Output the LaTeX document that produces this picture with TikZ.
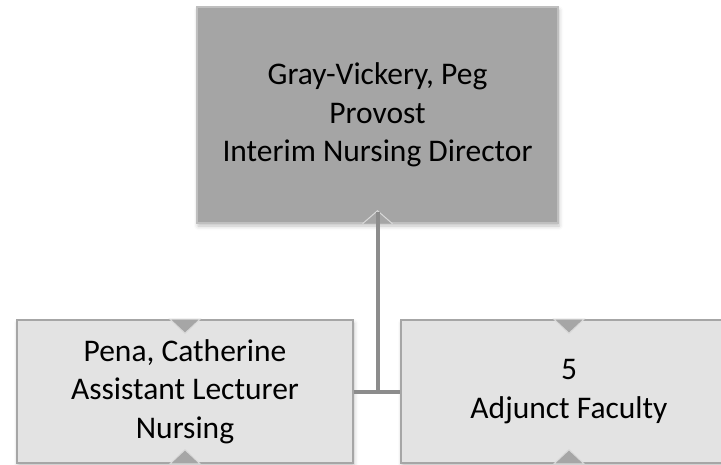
\documentclass[tikz,border=0pt]{standalone}
\usepackage{fontspec}
\setmainfont{Carlito}
\usetikzlibrary{shadows.blur}
\definecolor{topfill}{HTML}{A5A5A5}
\definecolor{topline}{HTML}{BFBFBF}
\definecolor{subfill}{HTML}{E3E3E3}
\definecolor{subline}{HTML}{A6A6A6}
\definecolor{conn}{HTML}{8C8C8C}
\definecolor{chev}{HTML}{A6A6A6}
\tikzset{
  orgbox/.style={rectangle, draw, line width=1.5pt, align=center, inner sep=0pt,
    blur shadow={shadow xshift=1pt, shadow yshift=-3pt, shadow blur radius=4pt, shadow opacity=25}},
  headbox/.style={orgbox, fill=topfill, draw=topline, minimum width=361pt, minimum height=216pt,
    font=\fontsize{31.5}{38.5}\selectfont},
  staffbox/.style={orgbox, fill=subfill, draw=subline, minimum width=336pt, minimum height=143pt,
    font=\fontsize{31.5}{38.5}\selectfont},
  chevup/.style={fill=chev, draw=white!85!black, line width=1pt},
  connline/.style={draw=conn, line width=4pt}
}
\begin{document}
\begin{tikzpicture}[x=1pt,y=-1pt]
\useasboundingbox (0,0) rectangle (721,465);
\clip (0,0) rectangle (721,465);
\node[headbox] (top) at (377.5,115) {Gray-Vickery, Peg\\Provost\\Interim Nursing Director};
\node[staffbox] (left) at (185,391.5) {Pena, Catherine\\Assistant Lecturer\\Nursing};
\node[staffbox] (right) at (569,391.5) {5\\Adjunct Faculty};
% chevrons
\path[chevup, fill=topfill] ([xshift=-15pt]top.south) -- ([yshift=13pt]top.south) -- ([xshift=15pt]top.south);
\path[chevup] ([xshift=-15pt]left.north) -- ([yshift=-14pt]left.north) -- ([xshift=15pt]left.north) -- cycle;
\path[chevup] ([xshift=-15pt]left.south) -- ([yshift=14pt]left.south) -- ([xshift=15pt]left.south) -- cycle;
\path[chevup] ([xshift=-15pt]right.north) -- ([yshift=-14pt]right.north) -- ([xshift=15pt]right.north) -- cycle;
\path[chevup] ([xshift=-15pt]right.south) -- ([yshift=14pt]right.south) -- ([xshift=15pt]right.south) -- cycle;
% connectors
\coordinate (apex) at ([yshift=12pt]top.south);
\coordinate (junc) at (top.south |- left.east);
\draw[connline] (apex) -- (junc);
\draw[connline] (left.east) -- (right.west);
\end{tikzpicture}
\end{document}
